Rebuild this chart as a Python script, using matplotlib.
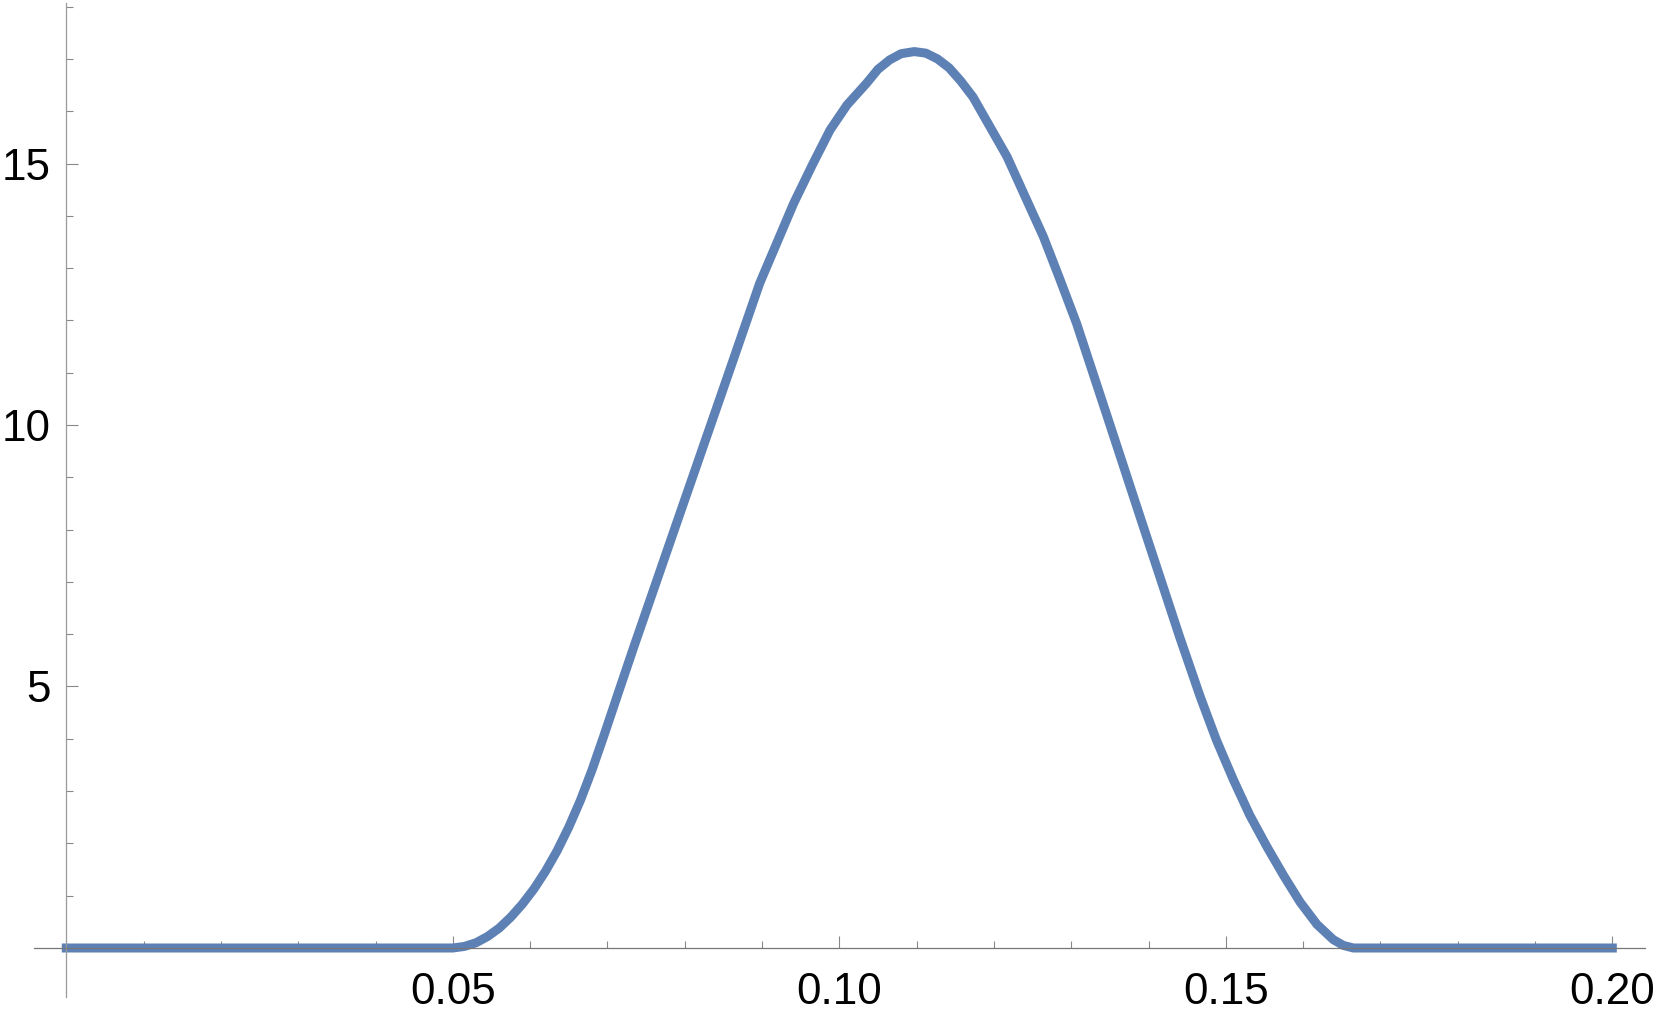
import numpy as np
import matplotlib
matplotlib.use('Agg')
import matplotlib.pyplot as plt

# curve
x_vals = [0.0, 0.05, 0.0515, 0.053, 0.0545, 0.056, 0.0575, 0.059, 0.0605,
          0.062, 0.0635, 0.065, 0.0665, 0.068, 0.0695, 0.0715, 0.0734,
          0.0785, 0.0854, 0.0897, 0.0941, 0.0965, 0.0988, 0.1010, 0.1035,
          0.1050, 0.1065, 0.1080, 0.1097, 0.1112, 0.1127, 0.1142, 0.1157,
          0.1173, 0.1195, 0.1217, 0.1240, 0.1264, 0.1285, 0.1307, 0.1346,
          0.1387, 0.1422, 0.1440, 0.1467, 0.1488, 0.1510, 0.1531, 0.1553,
          0.1575, 0.1596, 0.1618, 0.1639, 0.1652, 0.1665, 0.2]
y_vals = [0.0, 0.0, 0.03, 0.10, 0.22, 0.38, 0.59, 0.84, 1.13,
          1.47, 1.86, 2.31, 2.82, 3.40, 4.04, 4.92, 5.75,
          7.93, 10.87, 12.71, 14.24, 14.97, 15.64, 16.12, 16.53,
          16.80, 16.98, 17.10, 17.14, 17.11, 17.00, 16.83, 16.58,
          16.27, 15.70, 15.13, 14.38, 13.60, 12.80, 11.94, 10.19,
          8.34, 6.77, 5.96, 4.80, 3.97, 3.21, 2.54, 1.94,
          1.38, 0.88, 0.45, 0.16, 0.05, 0.0, 0.0]

x_major = [0.05, 0.10, 0.15, 0.20]
x_labels = ['0.05', '0.10', '0.15', '0.20']
x_minor = [0.01, 0.02, 0.03, 0.04, 0.06, 0.07, 0.08, 0.09,
           0.11, 0.12, 0.13, 0.14, 0.16, 0.17, 0.18, 0.19]
y_major = [5, 10, 15]
y_labels = ['5', '10', '15']
y_minor = [1, 2, 3, 4, 6, 7, 8, 9, 11, 12, 13, 14, 16, 17, 18]

plt.rcParams['font.family'] = ['Liberation Sans', 'DejaVu Sans']

fig = plt.figure(figsize=(16.61, 10.18), dpi=100)
ax = fig.add_axes([0.02047, 0.02063, 0.9699, 0.97642])

ax.plot(x_vals, y_vals, color='#5E81B5', lw=6.5, solid_capstyle='projecting',
        solid_joinstyle='round')

ax.set_xlim(-0.00418, 0.20423)
ax.set_ylim(-0.937, 18.069)

for s in ['top', 'right']:
    ax.spines[s].set_visible(False)
ax.spines['left'].set_position(('data', 0))
ax.spines['bottom'].set_position(('data', 0))
ax.spines['left'].set_color('#9a9a9a')
ax.spines['bottom'].set_color('#777777')
ax.spines['left'].set_linewidth(0.9)
ax.spines['bottom'].set_linewidth(0.9)

ax.set_xticks(x_major)
ax.set_xticklabels(x_labels)
ax.set_xticks(x_minor, minor=True)
ax.set_yticks(y_major)
ax.set_yticklabels(y_labels)
ax.set_yticks(y_minor, minor=True)

ax.tick_params(axis='both', which='major', direction='in', length=8.9,
               width=0.8, color='#888888', labelsize=31.7)
ax.tick_params(axis='both', which='minor', direction='in', length=5.3,
               width=0.8, color='#888888')
ax.tick_params(axis='x', which='major', pad=17)
ax.tick_params(axis='y', which='major', pad=11.5)

fig.savefig('out.png', dpi=100)
